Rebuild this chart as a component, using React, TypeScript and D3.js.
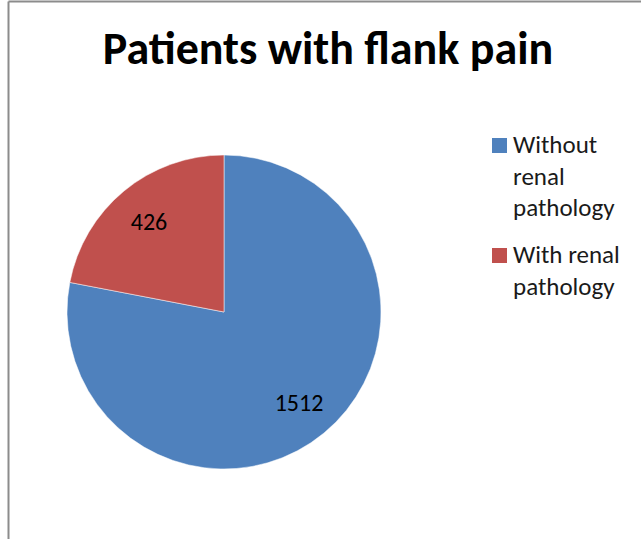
import React from "react";
import * as d3 from "d3";

const categories = ["Without renal pathology", "With renal pathology"];
const values = [1512, 426];
const colors = ["#4F81BD", "#C0504D"];
const legendLines = [["Without", "renal", "pathology"], ["With renal", "pathology"]];
const title = "Patients with flank pain";

export default function App() {
  const W = 641, H = 539;
  const cx = 224, cy = 312, r = 157;
  const pie = d3.pie<number>().sort(null).value((d) => d)(values);
  const arc = d3.arc<d3.PieArcDatum<number>>().innerRadius(0).outerRadius(r);
  const labelArc = d3.arc<d3.PieArcDatum<number>>().innerRadius(r * 0.75).outerRadius(r * 0.75);
  const font = "Carlito, 'Open Sans', 'Liberation Sans', sans-serif";
  return (
    <svg width={W} height={H} style={{ position: "absolute", left: 0, top: 0 }}>
      <rect x={0} y={0} width={W} height={H} fill="#fff" />
      <line x1={8.5} y1={1.5} x2={8.5} y2={H} stroke="#8c8c8c" strokeWidth={2} />
      <line x1={8.5} y1={1.5} x2={W} y2={1.5} stroke="#8c8c8c" strokeWidth={2} />
      <text x={328} y={64} textAnchor="middle" fontFamily={font} fontWeight="bold" fontSize={46} fill="#000">{title}</text>
      <g transform={`translate(${cx},${cy})`}>
        {pie.map((p, i) => (
          <path key={i} d={arc(p) || ""} fill={colors[i]} stroke="#fff" strokeWidth={0.5} />
        ))}
        {pie.map((p, i) => {
          const [x, y] = labelArc.centroid(p);
          return (
            <text key={i} x={x} y={y} textAnchor="middle" dominantBaseline="central" fontFamily={font} fontSize={24} fill="#000">{values[i]}</text>
          );
        })}
      </g>
      {categories.map((c, i) => {
        const startY = i === 0 ? 153 : 263;
        return (
          <g key={c}>
            <rect x={492} y={startY - 15} width={15} height={15} fill={colors[i]} />
            {legendLines[i].map((t, j) => (
              <text key={j} x={513} y={startY + j * 31.5} fontFamily={font} fontSize={25} fill="#1a1a1a">{t}</text>
            ))}
          </g>
        );
      })}
    </svg>
  );
}
